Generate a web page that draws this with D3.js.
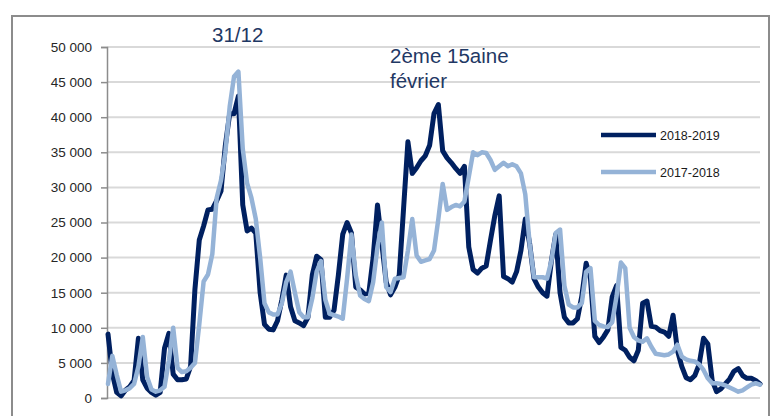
<!DOCTYPE html>
<html>
<head>
<meta charset="utf-8">
<script src="https://cdn.jsdelivr.net/npm/d3@7/dist/d3.min.js"></script>
<style>
  html, body { margin: 0; padding: 0; background: #fff; }
  svg { display: block; }
</style>
</head>
<body>
<svg id="chart" width="773" height="416"></svg>
<script>
// ---- Data (values in thousands; one point per day) ----
const seriesNames = ["2018-2019", "2017-2018"];
const values20182019 = [
  9.1, 3.5, 0.8, 0.3, 1.1, 1.6, 2.5, 8.5, 2.6, 1.4,
  0.8, 0.4, 0.8, 7.1, 9.2, 3.4, 2.6, 2.6, 2.7, 4.5,
  15.5, 22.5, 24.5, 26.8, 26.9, 28.1, 29.5, 36, 40.5, 40.5,
  43, 27.5, 23.8, 24.2, 23.5, 15, 10.5, 9.8, 9.7, 11,
  14, 17.5, 13, 11, 10.7, 10.3, 11.5, 17.5, 20.2, 19.7,
  11.5, 11.5, 12.5, 17.5, 23.3, 25, 23.5, 15.8, 15.4, 14.8,
  14.9, 20, 27.5, 22, 16.5, 14.7, 15.8, 17.5, 27, 36.5,
  32, 32.8, 33.8, 34.5, 36, 40.5, 41.8, 35.2, 34.2, 33.5,
  32.7, 32, 33, 21.5, 18.3, 17.8, 18.5, 18.8, 22.5, 26,
  28.8, 17.3, 17, 16.5, 18, 21, 25.5, 22, 17, 15.8,
  15, 14.5, 19.5, 23.3, 15, 11.5, 10.7, 10.7, 11.3, 14.5,
  19.2, 17, 8.8, 7.9, 8.7, 9.7, 14.4, 16, 7.2, 6.8,
  5.8, 5.3, 6.8, 13.5, 13.8, 10.2, 10.1, 9.6, 9.4, 8.8,
  11.8, 6.8, 4.5, 2.9, 2.6, 3.2, 4.8, 8.5, 7.7, 2.5,
  0.9, 1.3, 2, 2.7, 3.8, 4.2, 3.2, 2.8, 2.8, 2.5,
  2.0
];
const values20172018 = [
  2.0, 6.0, 3.3, 0.9, 1.1, 1.4, 2.0, 4.5, 8.7, 3.0,
  1.2, 0.9, 1.1, 1.6, 5.3, 10.0, 4.3, 3.7, 3.8, 4.3,
  5.0, 10.5, 16.6, 17.6, 20.5, 28.5, 31, 35, 41.5, 45.8,
  46.5, 35.5, 30.6, 28.5, 25.5, 20, 13.5, 12.2, 11.9, 11.9,
  13.5, 16.5, 18, 15, 12.2, 11.5, 11.5, 14.2, 18, 19.5,
  14, 12, 11.8, 11.6, 11.3, 17, 23.3, 17.5, 14.6, 14.1,
  13.8, 16.5, 21.5, 25, 15.8, 15.1, 17, 17.1, 17.2, 21,
  25.5, 20.3, 19.4, 19.6, 19.8, 21, 25.5, 30.5, 26.8, 27.2,
  27.5, 27.3, 28, 31.5, 35, 34.6, 35, 34.9, 33.9, 32.5,
  33, 33.5, 33, 33.3, 33, 32, 29, 22, 17.2, 17.2,
  17.2, 17, 19.5, 23.5, 24, 16, 13.3, 12.9, 12.9, 13.5,
  18, 18.5, 11, 10.4, 10.2, 10.1, 10.8, 14.5, 19.3, 18.5,
  10, 8.7, 8.2, 8.0, 8.5, 7.3, 6.3, 6.2, 6.1, 6.2,
  6.6, 7.6, 5.9, 5.5, 5.3, 5.2, 4.8, 4.0, 2.8, 2.1,
  2.1, 2.0, 1.8, 1.5, 1.2, 0.9, 1.1, 1.5, 1.9, 2.1,
  1.9
];
const yTicks = [0, 5000, 10000, 15000, 20000, 25000, 30000, 35000, 40000, 45000, 50000];
const tickLabels = ["0", "5 000", "10 000", "15 000", "20 000", "25 000", "30 000", "35 000", "40 000", "45 000", "50 000"];
const annotationPeak = ["31/12"];
const annotationFeb = ["2ème 15aine", "février"];

// ---- Layout ----
const svg = d3.select("#chart");
const plot = { left: 107, right: 760, top: 47, bottom: 398 };
const darkColor = "#002060";
const lightColor = "#95B3D7";

const x = d3.scaleLinear().domain([0, values20182019.length - 1]).range([plot.left + 1, plot.right]);
const y = d3.scaleLinear().domain([0, 50000]).range([plot.bottom, plot.top]);

// outer frame
svg.append("rect")
  .attr("x", 12).attr("y", 16).attr("width", 757).attr("height", 420)
  .attr("fill", "none").attr("stroke", "#8c8c8c").attr("stroke-width", 2);

// gridlines
svg.append("g").selectAll("line").data(yTicks).join("line")
  .attr("x1", plot.left).attr("x2", plot.right)
  .attr("y1", d => y(d)).attr("y2", d => y(d))
  .attr("stroke", "#d9d9d9").attr("stroke-width", 2);

// y axis
const yAxis = d3.axisLeft(y).tickValues(yTicks)
  .tickFormat((d, i) => tickLabels[i]).tickSize(6).tickPadding(9);
const gy = svg.append("g").attr("transform", `translate(${plot.left},0)`).call(yAxis);
gy.select(".domain").attr("stroke", "#8c8c8c").attr("stroke-width", 1.5);
gy.selectAll(".tick line").attr("stroke", "#8c8c8c").attr("stroke-width", 1.5);
gy.selectAll(".tick text")
  .attr("font-family", "Liberation Sans, Arial, sans-serif")
  .attr("font-size", 13.5).attr("fill", "#262626");

// lines
const line = d3.line().x((d, i) => x(i)).y(d => y(d * 1000)).curve(d3.curveLinear);
svg.append("path").datum(values20182019)
  .attr("d", line).attr("fill", "none")
  .attr("stroke", darkColor).attr("stroke-width", 5)
  .attr("stroke-linejoin", "round").attr("stroke-linecap", "round");
svg.append("path").datum(values20172018)
  .attr("d", line).attr("fill", "none")
  .attr("stroke", lightColor).attr("stroke-width", 4.5)
  .attr("stroke-linejoin", "round").attr("stroke-linecap", "round");

// annotations
const annFont = "Liberation Sans, Arial, sans-serif";
svg.append("text").text(annotationPeak[0])
  .attr("x", 212).attr("y", 42)
  .attr("font-family", annFont).attr("font-size", 20.5).attr("fill", "#1f3864");
svg.append("g").selectAll("text").data(annotationFeb).join("text")
  .text(d => d)
  .attr("x", 390).attr("y", (d, i) => 63 + i * 25)
  .attr("font-family", annFont).attr("font-size", 20.5).attr("fill", "#1f3864");

// legend
const legend = svg.append("g");
const legendItems = [
  { name: seriesNames[0], color: darkColor, y: 135 },
  { name: seriesNames[1], color: lightColor, y: 172 }
];
legend.selectAll("line").data(legendItems).join("line")
  .attr("x1", 601).attr("x2", 656)
  .attr("y1", d => d.y).attr("y2", d => d.y)
  .attr("stroke", d => d.color).attr("stroke-width", 4.5);
legend.selectAll("text").data(legendItems).join("text")
  .text(d => d.name)
  .attr("x", 660).attr("y", d => d.y + 4.5)
  .attr("font-family", "Liberation Sans, Arial, sans-serif")
  .attr("font-size", 12.5).attr("fill", "#1a1a1a");
</script>
</body>
</html>
